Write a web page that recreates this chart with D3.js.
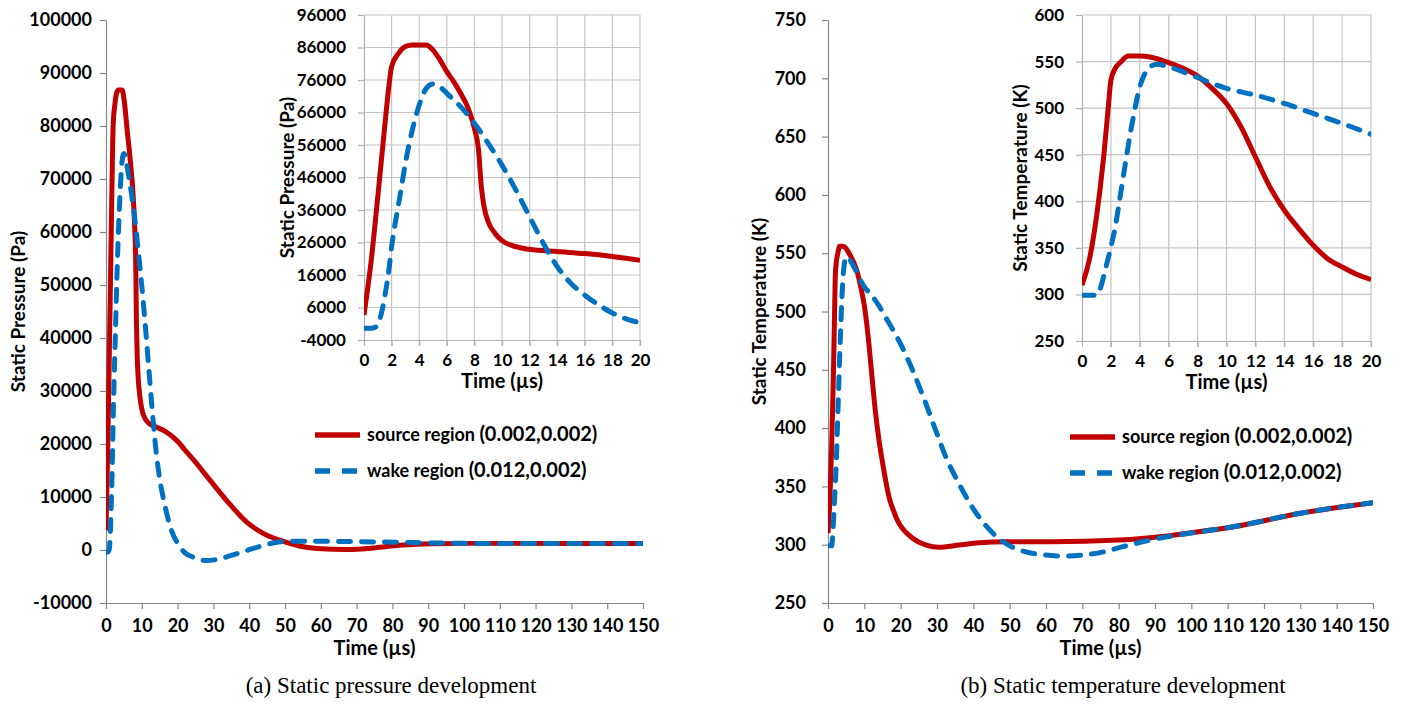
<!DOCTYPE html>
<html><head><meta charset="utf-8">
<script src="https://cdn.jsdelivr.net/npm/d3@7"></script>
<style>
body{margin:0;background:#fff}
svg{display:block}
text{font-family:Lato,'Open Sans',sans-serif;font-weight:700;fill:#000}
.cap{font-family:'Liberation Serif','Times New Roman',serif;font-weight:400}
</style>
</head><body>
<svg id="c" width="1403" height="704"></svg>
<script>
// ---------- data ----------
// Static pressure, source region (0.002,0.002)
const pSrcT = [0,0.5,1,1.5,1.8,2,2.5,3,3.5,4.5,5,5.5,6,6.5,7,7.5,8,8.3,8.5,8.7,9,9.5,10,11,12,14,16,18,20,22,24.7,29.6,34.5,39.4,44.3,49.2,54,59,67,75,82,91,101,150];
const pSrcV = [3700,19600,40100,61600,74000,80100,84200,86300,86800,86800,85200,82200,78600,75500,71900,67800,61100,54500,43200,37000,32400,28800,26600,24700,23900,23200,22600,21700,20500,18900,16800,12700,8700,5200,3000,1700,750,300,100,400,900,1200,1250,1250];
// Static pressure, wake region (0.012,0.002)
const pWakeT = [0,0.5,0.9,1.2,1.5,1.8,2,2.3,2.6,3,3.5,4,4.5,5,5.5,6,7,8,9,10,11,12,13,14,15,16,17,18,19,20,22,25,28,31,35,38.4,42.4,47.3,52,67,86,101,150];
const pWakeV = [-400,-400,100,3200,9300,17500,24700,32900,40100,50400,60600,68300,73400,74800,73900,71900,67800,62700,56500,49800,42200,33900,25700,18600,13400,9800,6800,4300,2500,1300,-500,-1500,-2000,-1800,-1000,-300,560,1400,1650,1600,1400,1250,1250];
// Static temperature, source region
const tSrcT = [0,0.5,1,1.5,1.8,2,2.3,2.7,3.2,4,4.7,5.5,6,7,8,9,10,11,12,13,14,15,16,17,18,19,20,23.3,27,30.5,36,41.5,49,61.5,80,88.6,100,111.6,130,150];
const tSrcV = [310,336.7,383,447.7,497.9,530,542.7,549.8,556,556,555,551.6,548.8,542.7,534.4,521.2,505,480,447.7,415.5,390.4,370.7,352.8,338.4,329.5,321.6,316,305.5,299.7,297.8,299.7,301.7,302.6,302.6,304,306,310.3,315.4,327,336];
// Static temperature, wake region
const tWakeT = [0,1,1.3,1.6,2,2.3,2.6,3,3.3,3.6,4,4.3,4.7,5.2,6,7,8,9,10,12,14,16,18,20,26.9,29.6,32.4,36,39.6,43.3,46.9,50.5,54.2,59.6,65.1,70.5,76,79.6,88.6,100,111.6,130,150];
const tWakeV = [299,299,308,326,351,372.5,401,440.6,469.2,494.3,523,535.5,544.5,547,544.5,539,533,526.5,521.2,514,505,494.3,483.6,472,421.3,398.4,375.5,352.6,332.6,316.9,305.5,298.3,294,291.2,290.3,291.2,294,297,304,310,315.4,327,336];

// tick labels
const mainTimeTicks = [0,10,20,30,40,50,60,70,80,90,100,110,120,130,140,150];
const insetTimeTicks = [0,2,4,6,8,10,12,14,16,18,20];
const pMainTicks = [-10000,0,10000,20000,30000,40000,50000,60000,70000,80000,90000,100000];
const pInsetTicks = [-4000,6000,16000,26000,36000,46000,56000,66000,76000,86000,96000];
const tMainTicks = [250,300,350,400,450,500,550,600,650,700,750];
const tInsetTicks = [250,300,350,400,450,500,550,600];

const seriesNames = ["source region", "wake region"];
const seriesCoords = ["(0.002,0.002)", "(0.012,0.002)"];
const xTitle = "Time (\u00b5s)";
const captions = ["(a) Static pressure development", "(b) Static temperature development"];

// ---------- drawing ----------
const svg = d3.select("#c");
const RED = "#c00000", BLUE = "#0070c0", AXIS = "#868686", GRID = "#c4c4c4";
const fmt = d => String(d);
let clipId = 0;

function zip(T, V){ return T.map((t,i)=>({t, v:V[i]})); }

function drawLines(g, x, y, src, wake, xmax){
  const line = d3.line().x(d=>x(d.t)).y(d=>y(d.v)).curve(d3.curveMonotoneX);
  const id = "clip" + (clipId++);
  g.append("clipPath").attr("id", id).append("rect")
    .attr("x", x.range()[0]).attr("y", -50).attr("width", x.range()[1]-x.range()[0]).attr("height", 900);
  const lg = g.append("g").attr("clip-path", `url(#${id})`);
  lg.append("path").datum(src.filter(d=>d.t<=xmax)).attr("d", line)
    .attr("fill","none").attr("stroke",RED).attr("stroke-width",5).attr("stroke-linejoin","round");
  lg.append("path").datum(wake.filter(d=>d.t<=xmax)).attr("d", line)
    .attr("fill","none").attr("stroke",BLUE).attr("stroke-width",5)
    .attr("stroke-dasharray","12 11").attr("stroke-linecap","round");
}

function styleAxis(ax, size){
  ax.select(".domain").attr("stroke", AXIS).attr("stroke-width", 1.2);
  ax.selectAll(".tick line").attr("stroke", AXIS).attr("stroke-width", 1.2);
  ax.selectAll(".tick text").style("font-size", size+"px").attr("fill","#000");
  ax.attr("font-family", null).attr("font-size", null);
}

function mainPanel(o){
  const g = svg.append("g");
  const x = d3.scaleLinear().domain([0,150]).range([o.x0,o.x1]);
  const y = d3.scaleLinear().domain(o.ydom).range([o.y1,o.y0]);
  const ax = g.append("g").attr("transform",`translate(0,${o.y1})`)
    .call(d3.axisBottom(x).tickValues(mainTimeTicks).tickFormat(fmt).tickSize(6).tickSizeOuter(0).tickPadding(10));
  styleAxis(ax, 18);
  const ay = g.append("g").attr("transform",`translate(${o.x0},0)`)
    .call(d3.axisLeft(y).tickValues(o.yticks).tickFormat(fmt).tickSize(6).tickSizeOuter(0).tickPadding(o.ypad));
  styleAxis(ay, 18);
  g.append("text").attr("x",(o.x0+o.x1)/2).attr("y",o.y1+52).attr("text-anchor","middle")
    .style("font-size","20px").text(xTitle);
  g.append("text").attr("transform",`translate(${o.ytx},${(o.y0+o.y1)/2}) rotate(-90)`)
    .attr("text-anchor","middle").attr("dy","0.35em").style("font-size","19px").text(o.ytitle);
  drawLines(g, x, y, o.src, o.wake, 150);
  // legend
  const lgd = g.append("g");
  [0,1].forEach(i=>{
    const ly = o.ly + i*36;
    const l = lgd.append("line").attr("x1",o.lx).attr("x2",o.lx+45).attr("y1",ly).attr("y2",ly)
      .attr("stroke", i? BLUE: RED).attr("stroke-width",5.5);
    if(i) l.attr("stroke-dasharray","15 12").attr("stroke-linecap","butt");
    const t = lgd.append("text").attr("x",o.lx+52).attr("y",ly).attr("dy","0.35em");
    t.append("tspan").style("font-size","18px").text(seriesNames[i] + " ");
    t.append("tspan").style("font-size","20px").text(seriesCoords[i]);
  });
  svg.append("text").attr("class","cap").attr("x",o.capx).attr("y",693).attr("text-anchor","middle")
    .style("font-size","23px").text(o.caption);
}

function insetPanel(o){
  const g = svg.append("g");
  const x = d3.scaleLinear().domain([0,20]).range([o.x0,o.x1]);
  const y = d3.scaleLinear().domain(o.ydom).range([o.y1,o.y0]);
  g.append("rect").attr("x",o.x0).attr("y",o.y0).attr("width",o.x1-o.x0).attr("height",o.y1-o.y0).attr("fill","#fff");
  const grid = g.append("g");
  grid.selectAll("line.v").data(insetTimeTicks.slice(1)).join("line")
    .attr("x1",d=>x(d)).attr("x2",d=>x(d)).attr("y1",o.y0).attr("y2",o.y1+6)
    .attr("stroke",GRID).attr("stroke-width",1.2);
  grid.selectAll("line.h").data(o.yticks.slice(1)).join("line")
    .attr("x1",o.x0).attr("x2",o.x1).attr("y1",d=>y(d)).attr("y2",d=>y(d))
    .attr("stroke",GRID).attr("stroke-width",1.2);
  const ax = g.append("g").attr("transform",`translate(0,${o.y1})`)
    .call(d3.axisBottom(x).tickValues(insetTimeTicks).tickFormat(fmt).tickSize(6).tickSizeOuter(0).tickPadding(8));
  styleAxis(ax, 17);
  ax.select(".domain").attr("stroke","#b0b0b0");
  ax.selectAll(".tick line").attr("stroke","#b0b0b0");
  const ay = g.append("g").attr("transform",`translate(${o.x0},0)`)
    .call(d3.axisLeft(y).tickValues(o.yticks).tickFormat(fmt).tickSize(6).tickSizeOuter(0).tickPadding(12));
  styleAxis(ay, 17);
  ay.select(".domain").attr("stroke","#b0b0b0");
  ay.selectAll(".tick line").attr("stroke","#b0b0b0");
  g.append("text").attr("x",(o.x0+o.x1)/2).attr("y",o.y1+48).attr("text-anchor","middle")
    .style("font-size","20px").text(xTitle);
  g.append("text").attr("transform",`translate(${o.ytx},${(o.y0+o.y1)/2}) rotate(-90)`)
    .attr("text-anchor","middle").attr("dy","0.35em").style("font-size","19px").text(o.ytitle);
  drawLines(g, x, y, o.src, o.wake, 20.01);
}

const pSrc = zip(pSrcT,pSrcV), pWake = zip(pWakeT,pWakeV);
const tSrc = zip(tSrcT,tSrcV), tWake = zip(tWakeT,tWakeV);

mainPanel({x0:106,x1:643,y0:20,y1:603,ydom:[-10000,100000],yticks:pMainTicks,ypad:8,ytx:18,
  ytitle:"Static Pressure (Pa)",src:pSrc,wake:pWake,lx:315,ly:435,capx:391,caption:captions[0]});
insetPanel({x0:364,x1:640,y0:15,y1:340,ydom:[-4000,96000],yticks:pInsetTicks,ytx:287,
  ytitle:"Static Pressure (Pa)",src:pSrc,wake:pWake});

mainPanel({x0:828,x1:1373,y0:20,y1:603,ydom:[250,750],yticks:tMainTicks,ypad:16,ytx:759,
  ytitle:"Static Temperature (K)",src:tSrc,wake:tWake,lx:1070,ly:437,capx:1123,caption:captions[1]});
insetPanel({x0:1082,x1:1371,y0:15,y1:341,ydom:[250,600],yticks:tInsetTicks,ytx:1020,
  ytitle:"Static Temperature (K)",src:tSrc,wake:tWake});
</script>
</body></html>
